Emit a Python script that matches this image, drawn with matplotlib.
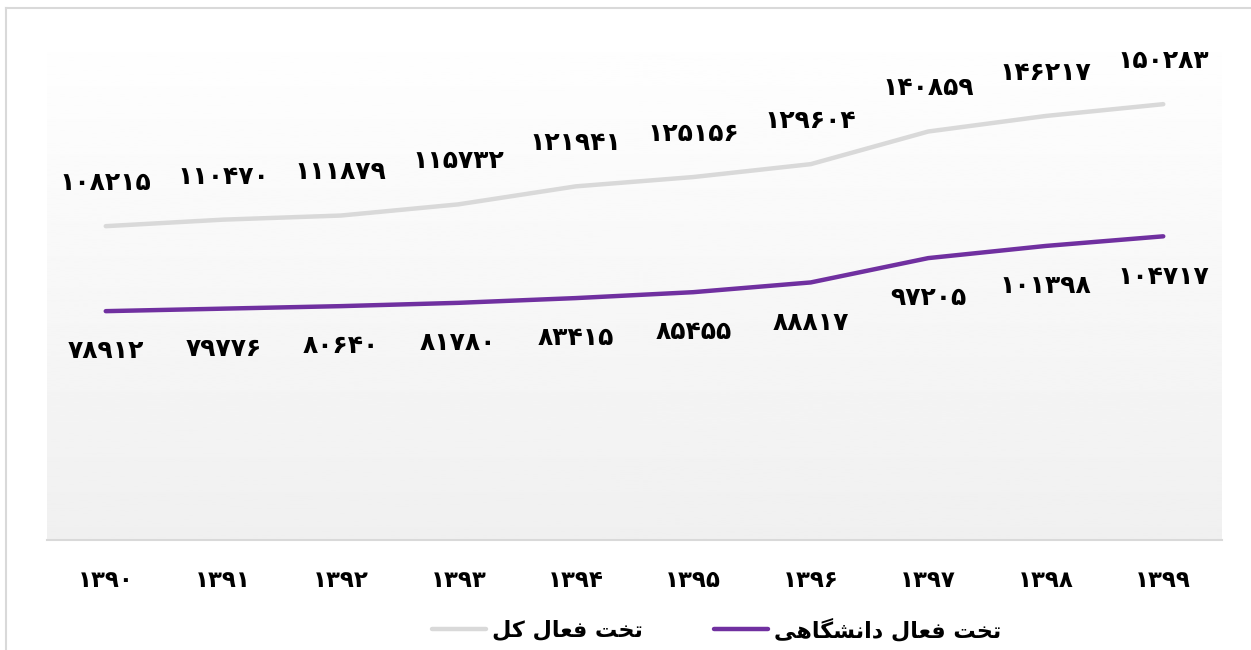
import numpy as np
import matplotlib
matplotlib.use('Agg')
import matplotlib.pyplot as plt
from matplotlib.lines import Line2D

plt.rcParams['font.family'] = ['DejaVu Sans']
plt.rcParams['font.weight'] = 'bold'

# Data (Persian calendar years)
years = [1390, 1391, 1392, 1393, 1394, 1395, 1396, 1397, 1398, 1399]
total_beds = [108215, 110470, 111879, 115732, 121941, 125156, 129604, 140859, 146217, 150283]
univ_beds = [78912, 79776, 80640, 81780, 83415, 85455, 88817, 97205, 101398, 104717]

# Legend labels, pre-shaped Arabic presentation forms in visual order
label_total = '\uFEDE\uFB90 \uFEDD\uFE8E\uFECC\uFED3 \uFE96\uFEA8\uFE97'  # تخت فعال کل
label_univ = ('\uFBFD\uFEEB\uFE8E\uFB95\uFEB8\uFEE7\uFE8D\uFEA9 '
              '\uFEDD\uFE8E\uFECC\uFED3 \uFE96\uFEA8\uFE97')  # تخت فعال دانشگاهی

FA = str.maketrans('0123456789', '\u06F0\u06F1\u06F2\u06F3\u06F4\u06F5\u06F6\u06F7\u06F8\u06F9')


def fa(n):
    return str(n).translate(FA)


fig = plt.figure(figsize=(12.51, 6.5), dpi=100)
W, H = 1251, 650
ax = fig.add_axes([47 / W, 1 - 540 / H, (1222 - 47) / W, (540 - 18) / H])

x = np.arange(len(years))
ax.set_xlim(-0.5, len(years) - 0.5)
ax.set_ylim(0, 180000)

# background gradient: white at top to light gray at bottom
grad = np.linspace(1.0, 0.94, 256).reshape(-1, 1)
ax.imshow(grad, cmap='gray', vmin=0, vmax=1, aspect='auto',
          extent=[0, 1, 0, 1], transform=ax.transAxes, zorder=0)

l1, = ax.plot(x, total_beds, color='#d9d9d9', lw=3.2, solid_capstyle='round', zorder=2)
l2, = ax.plot(x, univ_beds, color='#7030a0', lw=3.2, solid_capstyle='round', zorder=3)

for xi, v in zip(x, total_beds):
    ax.annotate(fa(v), (xi, v), xytext=(0, 31), textcoords='offset points',
                ha='center', va='center', fontsize=18, fontweight='bold', color='black')
for xi, v in zip(x, univ_beds):
    ax.annotate(fa(v), (xi, v), xytext=(0, -29), textcoords='offset points',
                ha='center', va='center', fontsize=18, fontweight='bold', color='black')

ax.set_xticks(x)
ax.set_xticklabels([fa(y) for y in years], fontsize=16.5, fontweight='bold')
ax.tick_params(axis='x', length=0, pad=21)
ax.set_yticks([])
for s in ['top', 'left', 'right']:
    ax.spines[s].set_visible(False)
ax.spines['bottom'].set_color('#d9d9d9')
ax.spines['bottom'].set_linewidth(1.5)

leg = fig.legend([l1, l2], [label_total, label_univ], ncol=2, loc='center',
                 bbox_to_anchor=(0.573, 1 - 629 / H), frameon=False,
                 prop={'size': 16, 'weight': 'bold'}, handlelength=2.4,
                 handletextpad=0.3, columnspacing=3.2)

# outer chart frame
fig.add_artist(Line2D([6 / W, 6 / W], [0, 1 - 8 / H], color='#d9d9d9', lw=1.5))
fig.add_artist(Line2D([6 / W, 1], [1 - 8 / H, 1 - 8 / H], color='#d9d9d9', lw=1.5))

fig.savefig('out.png', dpi=100)
